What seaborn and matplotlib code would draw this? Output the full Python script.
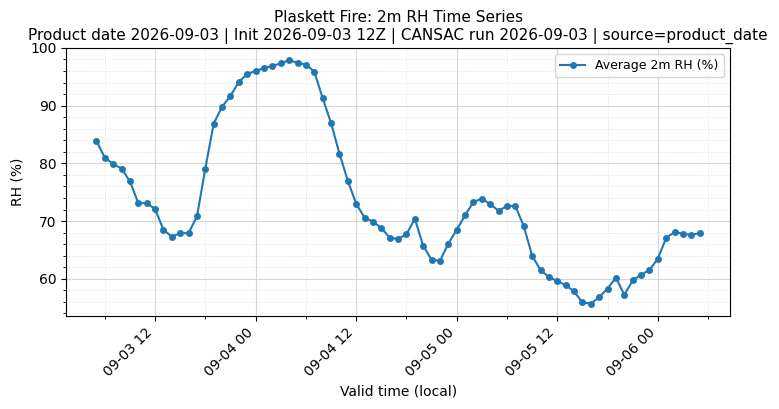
import pandas as pd
import matplotlib
matplotlib.use("Agg")
import matplotlib.pyplot as plt
import matplotlib.dates as mdates
from matplotlib.ticker import AutoMinorLocator
import seaborn as sns

# hourly valid times (local) and average 2m RH
start_time = "2026-09-03 05:00"
n_hours = 73
rh_values = [
    83.9, 81.0, 79.9, 79.1, 76.9, 73.1, 73.1, 72.1, 68.5, 67.3,
    67.9, 67.9, 70.8, 79.1, 86.9, 89.8, 91.7, 94.1, 95.5, 96.0,
    96.5, 96.9, 97.3, 97.9, 97.4, 97.1, 95.9, 91.3, 87.0, 81.7,
    77.0, 73.0, 70.6, 69.9, 68.8, 67.1, 66.9, 67.7, 70.4, 65.7,
    63.3, 63.1, 66.1, 68.5, 71.0, 73.3, 73.9, 72.9, 71.8, 72.6,
    72.6, 69.1, 64.0, 61.5, 60.3, 59.6, 58.9, 57.8, 55.9, 55.7,
    56.8, 58.3, 60.2, 57.2, 59.7, 60.7, 61.5, 63.5, 67.1, 68.1,
    67.8, 67.6, 67.9,
]
times = pd.date_range(start_time, periods=n_hours, freq="h")
df = pd.DataFrame({"valid_time": times, "rh": rh_values})

fig, ax = plt.subplots(figsize=(7.79, 4.09), dpi=100)
fig.subplots_adjust(left=0.085, right=0.937, top=0.883, bottom=0.228)

sns.lineplot(data=df, x="valid_time", y="rh", marker="o", markersize=5,
             markeredgewidth=0, linewidth=1.5, color="#1f77b4",
             label="Average 2m RH (%)", ax=ax)

ax.xaxis.set_major_locator(mdates.HourLocator(byhour=[0, 12]))
ax.xaxis.set_minor_locator(mdates.HourLocator(byhour=[6, 18]))
ax.xaxis.set_major_formatter(mdates.DateFormatter("%m-%d %H"))
ax.yaxis.set_minor_locator(AutoMinorLocator(5))
plt.setp(ax.get_xticklabels(), rotation=45, ha="right")

ax.grid(which="major", color="#cccccc", linewidth=0.8, alpha=0.8)
ax.grid(which="minor", color="#dddddd", linestyle=":", linewidth=0.7, alpha=0.8)

ax.set_title("Plaskett Fire: 2m RH Time Series\n"
             "Product date 2026-09-03 | Init 2026-09-03 12Z | CANSAC run 2026-09-03 | source=product_date",
             fontsize=11)
ax.set_xlabel("Valid time (local)")
ax.set_ylabel("RH (%)")
ax.legend(loc="upper right", fontsize=9)

fig.savefig("out.png", dpi=100)
